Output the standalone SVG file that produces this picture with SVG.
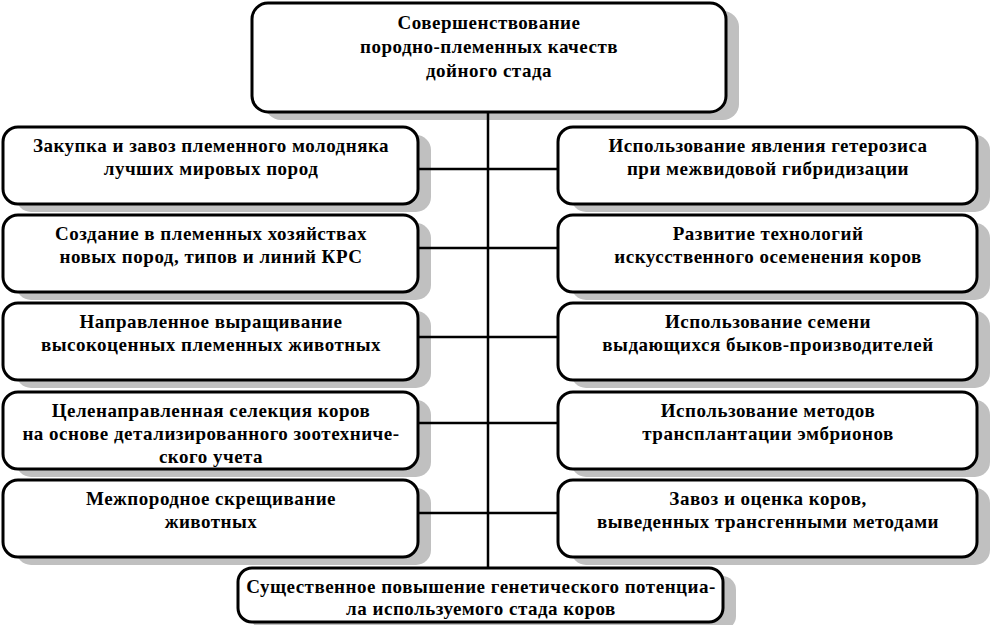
<svg xmlns="http://www.w3.org/2000/svg" width="991" height="625" viewBox="0 0 991 625">
<defs>
<style>
.sh{fill:#c0c0c0;stroke:none}
.bx{fill:#fff;stroke:#000;stroke-width:3}
.ln{stroke:#000;stroke-width:2.5;fill:none}
</style>
</defs>
<rect width="991" height="625" fill="#fff"/>
<g id="shadows">
<rect class="sh" x="265" y="11" width="474" height="109" rx="16"/>
<rect class="sh" x="16" y="135" width="415" height="77" rx="15"/>
<rect class="sh" x="16" y="223" width="415" height="77" rx="15"/>
<rect class="sh" x="16" y="311" width="415" height="77" rx="15"/>
<rect class="sh" x="16" y="400" width="415" height="77" rx="15"/>
<rect class="sh" x="16" y="488" width="415" height="77" rx="15"/>
<rect class="sh" x="571" y="135" width="419" height="77" rx="15"/>
<rect class="sh" x="571" y="223" width="419" height="77" rx="15"/>
<rect class="sh" x="571" y="311" width="419" height="77" rx="15"/>
<rect class="sh" x="571" y="400" width="419" height="77" rx="15"/>
<rect class="sh" x="571" y="488" width="419" height="77" rx="15"/>
<rect class="sh" x="251" y="576" width="485" height="54" rx="14"/>
</g>
<g id="connectors">
<line class="ln" x1="488" y1="112" x2="488" y2="568"/>
<line class="ln" x1="418" y1="169" x2="558" y2="169"/>
<line class="ln" x1="418" y1="248" x2="558" y2="248"/>
<line class="ln" x1="418" y1="337" x2="558" y2="337"/>
<line class="ln" x1="418" y1="423" x2="558" y2="423"/>
<line class="ln" x1="418" y1="513" x2="558" y2="513"/>
</g>
<g id="top">
<rect class="bx" x="252" y="3" width="474" height="109" rx="16"/>
<text x="489" y="29" text-anchor="middle" style="font-family:'Liberation Serif';font-weight:bold;font-size:19px;letter-spacing:0.5px">Совершенствование</text>
<text x="489" y="53" text-anchor="middle" style="font-family:'Liberation Serif';font-weight:bold;font-size:19px;letter-spacing:0.5px">породно-племенных качеств</text>
<text x="489" y="77" text-anchor="middle" style="font-family:'Liberation Serif';font-weight:bold;font-size:19px;letter-spacing:0.5px">дойного стада</text>
</g>
<g id="l1">
<rect class="bx" x="3" y="127" width="415" height="77" rx="15"/>
<text x="211" y="152" text-anchor="middle" style="font-family:'Liberation Serif';font-weight:bold;font-size:19px;letter-spacing:0.5px">Закупка и завоз племенного молодняка</text>
<text x="211" y="175" text-anchor="middle" style="font-family:'Liberation Serif';font-weight:bold;font-size:19px;letter-spacing:0.5px">лучших мировых пород</text>
</g>
<g id="l2">
<rect class="bx" x="3" y="215" width="415" height="77" rx="15"/>
<text x="211" y="240" text-anchor="middle" style="font-family:'Liberation Serif';font-weight:bold;font-size:19px;letter-spacing:0.5px">Создание в племенных хозяйствах</text>
<text x="211" y="263" text-anchor="middle" style="font-family:'Liberation Serif';font-weight:bold;font-size:19px;letter-spacing:0.5px">новых пород, типов и линий КРС</text>
</g>
<g id="l3">
<rect class="bx" x="3" y="303" width="415" height="77" rx="15"/>
<text x="211" y="328" text-anchor="middle" style="font-family:'Liberation Serif';font-weight:bold;font-size:19px;letter-spacing:0.5px">Направленное выращивание</text>
<text x="211" y="351" text-anchor="middle" style="font-family:'Liberation Serif';font-weight:bold;font-size:19px;letter-spacing:0.5px">высокоценных племенных животных</text>
</g>
<g id="l4">
<rect class="bx" x="3" y="392" width="415" height="77" rx="15"/>
<text x="211" y="417" text-anchor="middle" style="font-family:'Liberation Serif';font-weight:bold;font-size:19px;letter-spacing:0.5px">Целенаправленная селекция коров</text>
<text x="211" y="440" text-anchor="middle" style="font-family:'Liberation Serif';font-weight:bold;font-size:19px;letter-spacing:0.5px">на основе детализированного зоотехниче-</text>
<text x="211" y="463" text-anchor="middle" style="font-family:'Liberation Serif';font-weight:bold;font-size:19px;letter-spacing:0.5px">ского учета</text>
</g>
<g id="l5">
<rect class="bx" x="3" y="480" width="415" height="77" rx="15"/>
<text x="211" y="505" text-anchor="middle" style="font-family:'Liberation Serif';font-weight:bold;font-size:19px;letter-spacing:0.5px">Межпородное скрещивание</text>
<text x="211" y="528" text-anchor="middle" style="font-family:'Liberation Serif';font-weight:bold;font-size:19px;letter-spacing:0.5px">животных</text>
</g>
<g id="r1">
<rect class="bx" x="558" y="127" width="419" height="77" rx="15"/>
<text x="768" y="152" text-anchor="middle" style="font-family:'Liberation Serif';font-weight:bold;font-size:19px;letter-spacing:0.5px">Использование явления гетерозиса</text>
<text x="768" y="175" text-anchor="middle" style="font-family:'Liberation Serif';font-weight:bold;font-size:19px;letter-spacing:0.5px">при межвидовой гибридизации</text>
</g>
<g id="r2">
<rect class="bx" x="558" y="215" width="419" height="77" rx="15"/>
<text x="768" y="240" text-anchor="middle" style="font-family:'Liberation Serif';font-weight:bold;font-size:19px;letter-spacing:0.5px">Развитие технологий</text>
<text x="768" y="263" text-anchor="middle" style="font-family:'Liberation Serif';font-weight:bold;font-size:19px;letter-spacing:0.5px">искусственного осеменения коров</text>
</g>
<g id="r3">
<rect class="bx" x="558" y="303" width="419" height="77" rx="15"/>
<text x="768" y="328" text-anchor="middle" style="font-family:'Liberation Serif';font-weight:bold;font-size:19px;letter-spacing:0.5px">Использование семени</text>
<text x="768" y="351" text-anchor="middle" style="font-family:'Liberation Serif';font-weight:bold;font-size:19px;letter-spacing:0.5px">выдающихся быков-производителей</text>
</g>
<g id="r4">
<rect class="bx" x="558" y="392" width="419" height="77" rx="15"/>
<text x="768" y="417" text-anchor="middle" style="font-family:'Liberation Serif';font-weight:bold;font-size:19px;letter-spacing:0.5px">Использование методов</text>
<text x="768" y="440" text-anchor="middle" style="font-family:'Liberation Serif';font-weight:bold;font-size:19px;letter-spacing:0.5px">трансплантации эмбрионов</text>
</g>
<g id="r5">
<rect class="bx" x="558" y="480" width="419" height="77" rx="15"/>
<text x="768" y="505" text-anchor="middle" style="font-family:'Liberation Serif';font-weight:bold;font-size:19px;letter-spacing:0.5px">Завоз и оценка коров,</text>
<text x="768" y="528" text-anchor="middle" style="font-family:'Liberation Serif';font-weight:bold;font-size:19px;letter-spacing:0.5px">выведенных трансгенными методами</text>
</g>
<g id="bottom">
<rect class="bx" x="238" y="568" width="485" height="54" rx="14"/>
<text x="481" y="593" text-anchor="middle" style="font-family:'Liberation Serif';font-weight:bold;font-size:19px;letter-spacing:0.5px">Существенное повышение генетического потенциа-</text>
<text x="481" y="615" text-anchor="middle" style="font-family:'Liberation Serif';font-weight:bold;font-size:19px;letter-spacing:0.5px">ла используемого стада коров</text>
</g>
</svg>
